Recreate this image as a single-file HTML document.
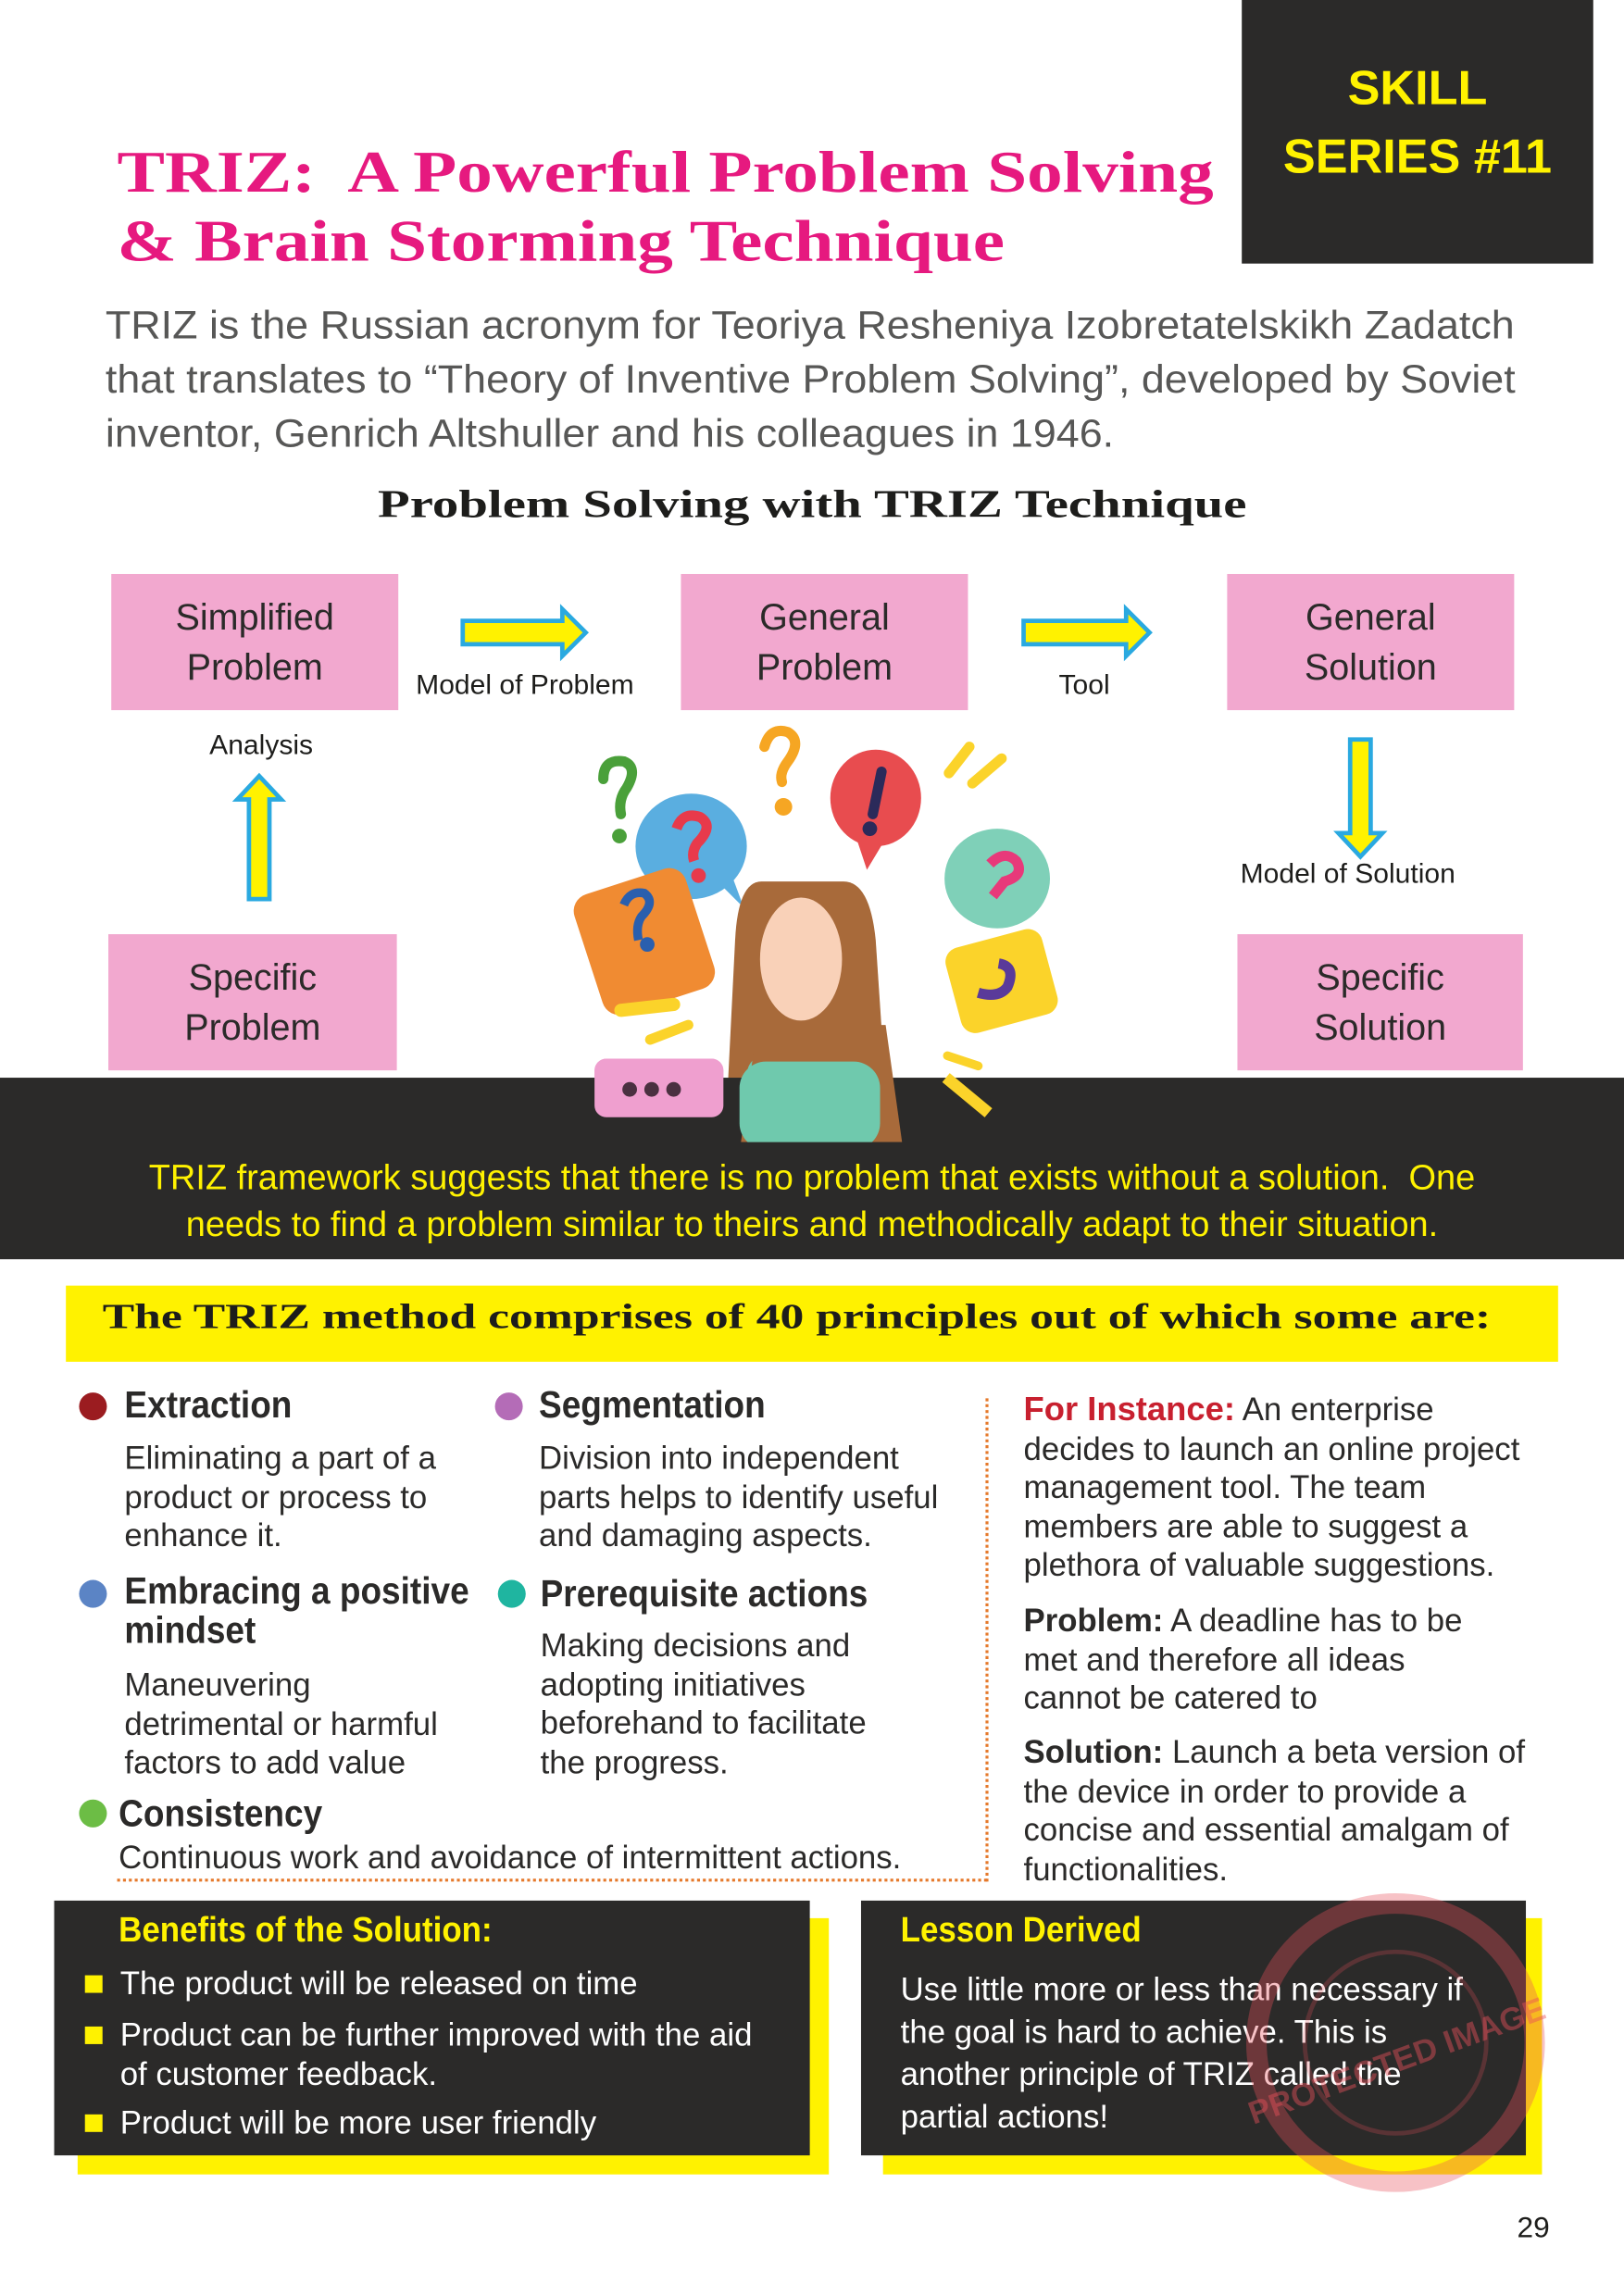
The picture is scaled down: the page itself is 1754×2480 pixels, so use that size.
<!DOCTYPE html>
<html><head><meta charset="utf-8"><style>
html,body{margin:0;padding:0;background:#fff;}
body{width:1754px;height:2480px;overflow:hidden;position:relative;}
#w{position:absolute;left:0;top:0;width:1109px;height:1568px;transform:scale(1.5816);transform-origin:0 0;font-family:"Liberation Sans",sans-serif;}
.a{position:absolute;white-space:nowrap;}
.box{position:absolute;background:#f2a8cf;text-align:center;font-size:25px;line-height:34px;color:#2b2a29;display:flex;align-items:center;justify-content:center;}
.slab{font-family:"Liberation Serif","DejaVu Serif",serif;font-weight:bold;transform-origin:0 0;}
.dk{background:#2b2a29;position:absolute;}
.yl{background:#fff200;position:absolute;}
.h{font-size:26px;color:#2b2a29;transform:scaleX(0.9);transform-origin:0 0;}
.t{font-size:22px;line-height:26.5px;color:#2b2a29;}
.dot{position:absolute;width:19px;height:19px;border-radius:50%;}
.sq{display:inline-block;width:12px;height:12px;background:#fff200;margin-right:12px;vertical-align:1px;}
</style></head><body><div id="w">

<div class="dk" style="left:848px;top:0;width:240px;height:180px;"></div>
<div class="a" style="left:848px;width:240px;top:36px;text-align:center;color:#fff200;font-size:33px;line-height:47px;font-weight:bold;">SKILL<br>SERIES #11</div>

<div class="a slab" style="left:80px;top:94px;color:#e6197f;font-size:40px;line-height:47px;transform:scaleX(1.22);">TRIZ:&nbsp; A Powerful Problem Solving<br>&amp; Brain Storming Technique</div>

<div class="a" style="left:72px;top:204px;color:#575756;font-size:27px;line-height:37px;transform:scaleX(1.05);transform-origin:0 0;">TRIZ is the Russian acronym for Teoriya Resheniya Izobretatelskikh Zadatch<br>that translates to “Theory of Inventive Problem Solving”, developed by Soviet<br>inventor, Genrich Altshuller and his colleagues in 1946.</div>

<div class="a slab" style="left:258px;top:329px;font-size:27px;color:#1d1d1b;transform:scaleX(1.33);">Problem Solving with TRIZ Technique</div>

<div class="box" style="left:76px;top:392px;width:196px;height:93px;">Simplified<br>Problem</div>
<div class="box" style="left:465px;top:392px;width:196px;height:93px;">General<br>Problem</div>
<div class="box" style="left:838px;top:392px;width:196px;height:93px;">General<br>Solution</div>
<div class="box" style="left:74px;top:638px;width:197px;height:93px;">Specific<br>Problem</div>
<div class="box" style="left:845px;top:638px;width:195px;height:93px;">Specific<br>Solution</div>

<svg class="a" style="left:0;top:0" width="1109" height="760">
<g fill="#fff200" stroke="#2aa9e0" stroke-width="3">
<polygon points="316,424 384,424 384,416 400,432 384,448 384,440 316,440"/>
<polygon points="699,424 769,424 769,416 785,432 769,448 769,440 699,440"/>
<polygon points="170,614 170,546 162,546 177,530 192,546 184,546 184,614"/>
<polygon points="922,505 936,505 936,569 944,569 929,585 914,569 922,569"/>
</g>
<g>
<path d="M412,532 q0,-14 14,-12 q10,4 2,18 q-6,8 -4,18" stroke="#4aa03a" stroke-width="7" fill="none" stroke-linecap="round"/>
<circle cx="423" cy="571" r="5" fill="#4aa03a"/>
<path d="M522,510 q4,-14 16,-10 q10,6 0,20 q-6,8 -4,14" stroke="#f6a623" stroke-width="7" fill="none" stroke-linecap="round"/>
<circle cx="535" cy="551" r="6" fill="#f6a623"/>
<ellipse cx="472" cy="578" rx="38" ry="36" fill="#5aaee0"/>
<polygon points="488,600 508,620 495,585" fill="#5aaee0"/>
<path d="M462,566 q4,-12 16,-8 q10,6 -2,18 q-4,6 -2,12" stroke="#e83a4b" stroke-width="7" fill="none"/>
<circle cx="477" cy="598" r="5" fill="#e83a4b"/>
<rect x="400" y="600" width="80" height="86" rx="12" fill="#f08b32" transform="rotate(-18 440 643)"/>
<path d="M426,618 q4,-10 14,-8 q8,6 -2,16 q-4,6 -2,16" stroke="#2a5fae" stroke-width="6" fill="none"/>
<circle cx="442" cy="645" r="5" fill="#2a5fae"/>
<ellipse cx="598" cy="545" rx="31" ry="33" fill="#e84c4f"/>
<polygon points="584,570 592,594 604,574" fill="#e84c4f"/>
<line x1="602" y1="527" x2="596" y2="556" stroke="#2b2a5a" stroke-width="7" stroke-linecap="round"/>
<circle cx="594" cy="566" r="5" fill="#2b2a5a"/>
<ellipse cx="681" cy="600" rx="36" ry="34" fill="#7fd0b8"/>
<path d="M676,590 q10,-10 18,-2 q6,10 -8,14 l-8,10" stroke="#e8397a" stroke-width="7" fill="none"/>
<rect x="650" y="640" width="68" height="60" rx="10" fill="#fbd32a" transform="rotate(-15 684 670)"/>
<path d="M668,678 q14,4 20,-4 q6,-14 -6,-16" stroke="#5a3a9a" stroke-width="7" fill="none"/>
<line x1="648" y1="528" x2="662" y2="510" stroke="#fbd32a" stroke-width="7" stroke-linecap="round"/>
<line x1="664" y1="535" x2="684" y2="518" stroke="#fbd32a" stroke-width="7" stroke-linecap="round"/>
<line x1="424" y1="690" x2="460" y2="686" stroke="#fbd32a" stroke-width="9" stroke-linecap="round"/>
<line x1="444" y1="710" x2="470" y2="700" stroke="#fbd32a" stroke-width="7" stroke-linecap="round"/>
<line x1="647" y1="721" x2="668" y2="728" stroke="#fbd32a" stroke-width="6" stroke-linecap="round"/>
<rect x="406" y="723" width="88" height="40" rx="8" fill="#ef9fcf"/>
<path d="M520,602 q-16,0 -18,40 l-6,120 l110,0 l-8,-120 q-4,-40 -22,-40 z" fill="#a86a3a"/>
<ellipse cx="547" cy="655" rx="28" ry="42" fill="#f9d1b8"/>
<rect x="510" y="720" width="80" height="40" rx="14" fill="#6fc9ad"/>
</g>
</svg>
<div class="a" style="left:284px;top:458px;font-size:19px;color:#1d1d1b;">Model of Problem</div>
<div class="a" style="left:723px;top:458px;font-size:19px;color:#1d1d1b;">Tool</div>
<div class="a" style="left:143px;top:499px;font-size:19px;color:#1d1d1b;">Analysis</div>
<div class="a" style="left:847px;top:587px;font-size:19px;color:#1d1d1b;">Model of Solution</div>

<div class="dk" style="left:0;top:736px;width:1109px;height:124px;"></div>
<svg class="a" style="left:380px;top:700px" width="320" height="80">
<rect x="26" y="23" width="88" height="40" rx="8" fill="#ef9fcf"/>
<circle cx="50" cy="44" r="5" fill="#4a3040"/><circle cx="65" cy="44" r="5" fill="#4a3040"/><circle cx="80" cy="44" r="5" fill="#4a3040"/>
<path d="M140,-20 l-14,100 l110,0 l-14,-100 z" fill="#a86a3a"/>
<rect x="125" y="25" width="96" height="60" rx="18" fill="#6fc9ad"/>
<line x1="266" y1="36" x2="295" y2="60" stroke="#fbd32a" stroke-width="8"/>
</svg>
<div class="a" style="left:0;width:1109px;text-align:center;top:789px;color:#fff200;font-size:24px;line-height:32px;">TRIZ framework suggests that there is no problem that exists without a solution.&nbsp; One<br>needs to find a problem similar to theirs and methodically adapt to their situation.</div>

<div class="yl" style="left:45px;top:878px;width:1019px;height:52px;"></div>
<div class="a slab" style="left:70px;top:887px;font-size:24px;color:#1d1d1b;transform:scaleX(1.36);">The TRIZ method comprises of 40 principles out of which some are:</div>

<div class="dot" style="left:54px;top:951px;background:#9b1c20;"></div>
<div class="a h" style="left:85px;top:944px;font-weight:bold;">Extraction</div>
<div class="a t" style="left:85px;top:983px;">Eliminating a part of a<br>product or process to<br>enhance it.</div>
<div class="dot" style="left:338px;top:951px;background:#b46cb7;"></div>
<div class="a h" style="left:368px;top:944px;font-weight:bold;">Segmentation</div>
<div class="a t" style="left:368px;top:983px;">Division into independent<br>parts helps to identify useful<br>and damaging aspects.</div>
<div class="dot" style="left:54px;top:1079px;background:#5b84c5;"></div>
<div class="a h" style="left:85px;top:1073px;font-weight:bold;line-height:27px;">Embracing a positive<br>mindset</div>
<div class="a t" style="left:85px;top:1138px;">Maneuvering<br>detrimental or harmful<br>factors to add value</div>
<div class="dot" style="left:340px;top:1079px;background:#1fb5a0;"></div>
<div class="a h" style="left:369px;top:1073px;font-weight:bold;">Prerequisite actions</div>
<div class="a t" style="left:369px;top:1111px;">Making decisions and<br>adopting initiatives<br>beforehand to facilitate<br>the progress.</div>
<div class="dot" style="left:54px;top:1229px;background:#6cbd45;"></div>
<div class="a h" style="left:81px;top:1223px;font-weight:bold;">Consistency</div>
<div class="a t" style="left:81px;top:1256px;">Continuous work and avoidance of intermittent actions.</div>
<div class="a" style="left:80px;top:1283px;width:594px;border-top:2px dotted #e5792b;"></div>
<div class="a" style="left:673px;top:955px;height:330px;border-left:2px dotted #e5792b;"></div>

<div class="a t" style="left:699px;top:949px;line-height:26.5px;"><span style="color:#c8202f;font-weight:bold;font-size:23px;">For Instance:</span> An enterprise<br>decides to launch an online project<br>management tool. The team<br>members are able to suggest a<br>plethora of valuable suggestions.</div>
<div class="a t" style="left:699px;top:1094px;"><b>Problem:</b> A deadline has to be<br>met and therefore all ideas<br>cannot be catered to</div>
<div class="a t" style="left:699px;top:1184px;"><b>Solution:</b> Launch a beta version of<br>the device in order to provide a<br>concise and essential amalgam of<br>functionalities.</div>

<div class="yl" style="left:53px;top:1310px;width:513px;height:175px;"></div>
<div class="dk" style="left:37px;top:1298px;width:516px;height:174px;"></div>
<div class="a" style="left:81px;top:1305px;color:#fff200;font-size:24px;font-weight:bold;transform:scaleX(0.92);transform-origin:0 0;">Benefits of the Solution:</div>
<div class="a" style="left:58px;top:1341px;color:#fff;font-size:22px;line-height:27px;"><span class="sq"></span>The product will be released on time</div>
<div class="a" style="left:58px;top:1376px;color:#fff;font-size:22px;line-height:27px;"><span class="sq"></span>Product can be further improved with the aid<br><span style="margin-left:24px">of customer feedback.</span></div>
<div class="a" style="left:58px;top:1436px;color:#fff;font-size:22px;line-height:27px;"><span class="sq"></span>Product will be more user friendly</div>

<div class="yl" style="left:603px;top:1310px;width:450px;height:175px;"></div>
<div class="dk" style="left:588px;top:1298px;width:454px;height:174px;"></div>
<div class="a" style="left:615px;top:1305px;color:#fff200;font-size:24px;font-weight:bold;transform:scaleX(0.92);transform-origin:0 0;">Lesson Derived</div>
<div class="a" style="left:615px;top:1344px;color:#fff;font-size:22px;line-height:29px;">Use little more or less than necessary if<br>the goal is hard to achieve. This is<br>another principle of TRIZ called the<br>partial actions!</div>

<svg class="a" style="left:835px;top:1285px" width="250" height="250">
<circle cx="118" cy="110" r="95" fill="none" stroke="#e8505b" stroke-opacity="0.35" stroke-width="14"/>
<circle cx="118" cy="110" r="62" fill="none" stroke="#e8505b" stroke-opacity="0.25" stroke-width="3"/>
<text x="118" y="130" font-family="Liberation Sans" font-weight="bold" font-size="22" fill="#e8505b" fill-opacity="0.45" text-anchor="middle" transform="rotate(-20 118 120)">PROTECTED IMAGE</text>
</svg>

<div class="a" style="left:1036px;top:1511px;font-size:20px;color:#1d1d1b;">29</div>
</div></body></html>
